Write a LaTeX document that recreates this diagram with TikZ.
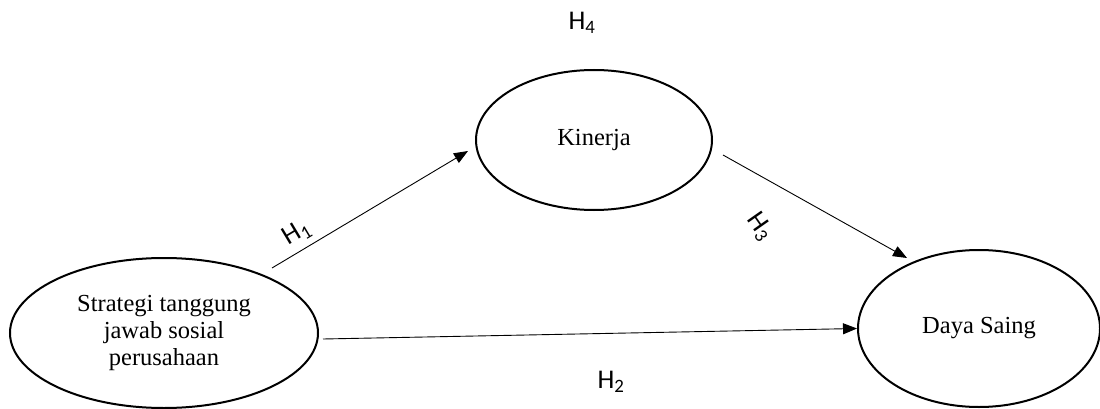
\documentclass[tikz,border=0pt]{standalone}
\usepackage{fontspec}
\setmainfont{Liberation Serif}
\newfontfamily\labfont{Carlito}
\usetikzlibrary{shapes.geometric,arrows.meta}
\begin{document}
\begin{tikzpicture}[x=1pt,y=1pt,
  var/.style={ellipse,draw,line width=2pt,inner sep=0pt,align=center,font=\fontsize{24.5}{27}\selectfont},
  arr/.style={line width=0.9pt,-{Triangle[length=14pt,width=11pt]}},
  hlab/.style={font=\labfont\fontsize{27}{30}\selectfont,inner sep=0pt}]
\useasboundingbox (0,0) rectangle (1100,-409);
\node[var,minimum width=308pt,minimum height=150pt] (s) at (164,-333) {Strategi tanggung\\jawab sosial\\perusahaan};
\node[var,minimum width=236pt,minimum height=140pt] (k) at (594,-140) {Kinerja};
\node[var,minimum width=242pt,minimum height=157pt] (d) at (979,-328.5) {Daya Saing};
\draw[arr] ([shift={(108,65)}]s.center) -- ([shift={(-126,-11)}]k.center);
\draw[arr] ([shift={(129,-15)}]k.center) -- ([shift={(-72,70.5)}]d.center);
\draw[arr] ([shift={(159,-6)}]s.center) -- (d.west);
\node[hlab] (h4) at (582,-23) {H\textsubscript{4}};
\node[hlab,rotate=31] (h1) at (297,-233) {H\textsubscript{1}};
\node[hlab,rotate=-55] (h3) at (760,-227) {H\textsubscript{3}};
\node[hlab] (h2) at (611,-382) {H\textsubscript{2}};
\end{tikzpicture}
\end{document}
